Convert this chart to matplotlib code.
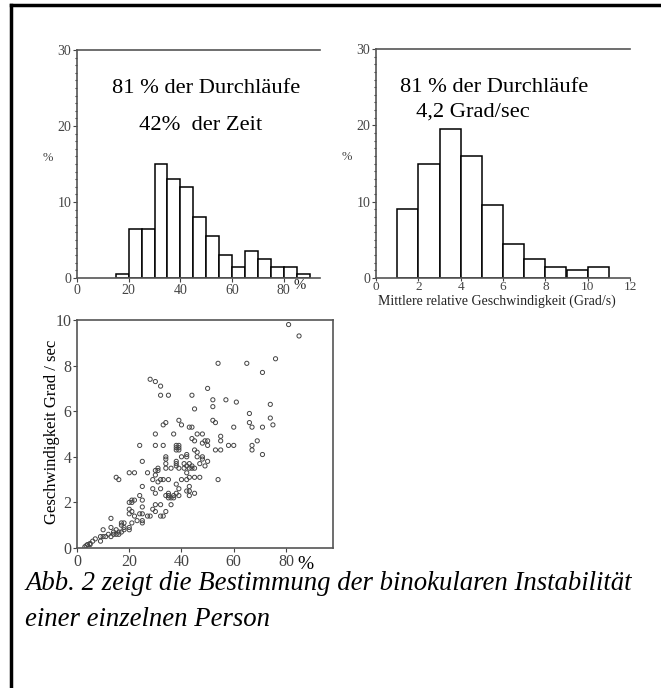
import numpy as np
import matplotlib.pyplot as plt

plt.rcParams['font.family'] = ['Liberation Serif', 'DejaVu Serif']

# Histogram 1: share of time (%), bins of 5
time_edges = [15, 20, 25, 30, 35, 40, 45, 50, 55, 60, 65, 70, 75, 80, 85, 90]
time_counts = [0.5, 6.5, 6.5, 15, 13, 12, 8, 5.5, 3, 1.5, 3.5, 2.5, 1.5, 1.5, 0.5]

# Histogram 2: mean relative speed (Grad/s), bins of 1
speed_edges = [1, 2, 3, 4, 5, 6, 7, 8, 9, 10, 11]
speed_counts = [9, 15, 19.5, 16, 9.5, 4.5, 2.5, 1.5, 1, 1.5]

# Scatter: time share (%) vs speed (Grad/sec)
scatter_x = [3, 3.5, 4, 5, 5, 6, 7, 9, 9, 10, 10, 11, 12, 13, 13, 13, 14, 14, 15, 15,
             16, 16, 17, 17, 17, 18, 18, 18, 20, 20, 20, 20, 20, 21, 21, 21, 22, 22, 23, 24,
             24, 25, 25, 25, 25, 25, 25, 25, 24, 20, 22, 15, 16, 21,
             27, 27, 28, 28, 29, 29, 29, 30, 30, 30, 30, 30, 30, 30, 30, 31, 31, 31,
             32, 32, 32, 32, 32, 32, 33, 33, 33, 33, 34, 34, 34, 34, 34, 34, 34,
             35, 35, 35, 35, 35, 36, 36, 36, 37, 37, 37, 38, 38, 38, 38, 38, 38, 38, 38,
             39, 39, 39, 39, 39, 39, 39, 40, 40, 40, 41, 41, 42, 42, 42, 42, 42, 42,
             43, 43, 43, 43, 43, 43, 43, 44, 44, 44, 44, 44, 45, 45, 45, 45, 45, 45,
             46, 46, 46, 47, 47, 48, 48, 48, 48, 49, 49, 50, 50, 50, 50, 52, 52, 52,
             53, 53, 54, 54, 55, 55, 55, 57, 58, 60, 60, 61, 65, 66, 66, 67, 67, 67,
             69, 71, 71, 71, 74, 74, 75, 76, 81, 85]
scatter_y = [0.05, 0.1, 0.15, 0.2, 0.15, 0.3, 0.4, 0.3, 0.5, 0.5, 0.8, 0.5, 0.6, 0.5, 0.9, 1.3, 0.6, 0.7, 0.6, 0.8,
             0.6, 0.7, 0.7, 1.0, 1.1, 0.8, 1.1, 0.9, 0.8, 0.9, 1.5, 1.7, 2.0, 2.0, 2.1, 1.6, 2.1, 1.4, 1.2, 1.5,
             2.3, 1.1, 1.2, 1.5, 1.8, 2.1, 2.7, 3.8, 4.5, 3.3, 3.3, 3.1, 3.0, 1.1,
             3.3, 1.4, 1.4, 7.4, 1.7, 2.6, 3.0, 7.3, 5.0, 4.5, 3.4, 3.2, 2.4, 1.9, 1.6, 3.5, 3.4, 2.9,
             7.1, 6.7, 3.0, 2.6, 1.9, 1.4, 1.4, 3.0, 4.5, 5.4, 5.5, 4.0, 3.9, 3.7, 3.5, 2.3, 1.6,
             6.7, 3.0, 2.4, 2.3, 2.2, 2.2, 1.9, 3.5, 5.0, 2.3, 2.2, 2.4, 2.8, 3.6, 3.7, 3.8, 4.4, 4.5, 4.3,
             4.4, 4.5, 4.3, 3.5, 2.6, 2.3, 5.6, 5.4, 4.0, 3.0, 3.7, 3.5, 4.1, 4.0, 3.3, 3.0, 2.5, 3.6,
             5.3, 3.7, 3.5, 3.1, 2.7, 2.5, 2.3, 6.7, 5.3, 4.8, 3.6, 3.5, 6.1, 4.7, 4.3, 3.5, 3.1, 2.4,
             5.0, 4.2, 4.0, 3.7, 3.1, 5.0, 4.6, 4.0, 3.9, 3.6, 4.7, 7.0, 4.7, 4.5, 3.8, 6.5, 6.2, 5.6,
             5.5, 4.3, 8.1, 3.0, 4.9, 4.7, 4.3, 6.5, 4.5, 5.3, 4.5, 6.4, 8.1, 5.9, 5.5, 5.3, 4.5, 4.3,
             4.7, 7.7, 5.3, 4.1, 6.3, 5.7, 5.4, 8.3, 9.8, 9.3]

W, H = 661, 688
fig = plt.figure(figsize=(W / 100, H / 100), dpi=100)

def frac(x0, y0, x1, y1):
    return [x0 / W, 1 - y1 / H, (x1 - x0) / W, (y1 - y0) / H]

spine_col = '#555555'
tick_col = '#444444'


def style_hist(ax):
    ax.spines['right'].set_visible(False)
    for s in ['left', 'top', 'bottom']:
        ax.spines[s].set_color(spine_col)
        ax.spines[s].set_linewidth(1.2)
    ax.set_ylim(0, 30)
    ax.set_yticks([0, 10, 20, 30])
    ax.set_yticks(np.arange(0, 30, 1), minor=True)
    ax.tick_params(axis='y', which='minor', length=1.5, width=0.8, color='#333333')
    ax.tick_params(axis='both', which='major', labelsize=10, colors=tick_col,
                   length=3, width=0.8, pad=1)
    ax.set_ylabel('%', fontsize=9, color=tick_col, rotation=0, labelpad=7)


# top-left histogram
ax1 = fig.add_axes(frac(77, 50, 320, 278))
ax1.bar(time_edges[:-1], time_counts, width=5, align='edge', facecolor='white',
        edgecolor='black', linewidth=1.1)
style_hist(ax1)
ax1.set_xlim(0, 94)
ax1.set_xticks([0, 20, 40, 60, 80])
ax1.text(83.6, -0.95, '%', fontsize=10.5, ha='left', va='center', color='#222222')
ax1.text(0.53, 0.833, '81 % der Durchläufe', transform=ax1.transAxes,
         fontsize=16.2, ha='center', va='center')
ax1.text(0.51, 0.67, '42%  der Zeit', transform=ax1.transAxes,
         fontsize=16.2, ha='center', va='center')

# top-right histogram
ax2 = fig.add_axes(frac(376, 49, 630, 278))
ax2.bar(speed_edges[:-1], speed_counts, width=1, align='edge', facecolor='white',
        edgecolor='black', linewidth=1.1)
style_hist(ax2)
ax2.set_xlim(0, 12)
ax2.set_xticks([0, 2, 4, 6, 8, 10, 12])
ax2.tick_params(axis='x', pad=0, length=2, labelsize=9.5)
ax2.set_xlabel('Mittlere relative Geschwindigkeit (Grad/s)', fontsize=10,
               color='#222222', va='top')
ax2.xaxis.set_label_coords(0.477, -0.072)
ax2.text(0.465, 0.834, '81 % der Durchläufe', transform=ax2.transAxes,
         fontsize=16.2, ha='center', va='center')
ax2.text(0.383, 0.725, '4,2 Grad/sec', transform=ax2.transAxes,
         fontsize=16.2, ha='center', va='center')

# scatter
ax3 = fig.add_axes(frac(77, 320, 333, 548))
ax3.scatter(scatter_x, scatter_y, s=9, facecolors='none', edgecolors='#444444',
            linewidths=0.7)
ax3.set_xlim(0, 98)
ax3.set_ylim(0, 10)
ax3.set_xticks([0, 20, 40, 60, 80])
ax3.set_yticks([0, 2, 4, 6, 8, 10])
for s in ax3.spines.values():
    s.set_color(spine_col)
    s.set_linewidth(1.2)
ax3.tick_params(axis='both', labelsize=11.5, colors=tick_col, length=3, width=0.8, pad=1)
ax3.set_ylabel('Geschwindigkeit Grad / sec', fontsize=12)
ax3.yaxis.set_label_coords(-0.066, 0.51)
ax3.text(84.5, -0.35, '%', fontsize=14, ha='left', va='top')

# caption
fig.text(25 / W, 1 - 584 / H, 'Abb. 2 zeigt die Bestimmung der binokularen Instabilität',
         fontsize=19.3, style='italic', ha='left', va='center')
fig.text(25 / W, 1 - 619 / H, 'einer einzelnen Person',
         fontsize=19.3, style='italic', ha='left', va='center')

# outer frame (left and top edges visible)
fig.add_artist(plt.Line2D([11 / W, 11 / W], [0, 1 - 5 / H], color='black', lw=2.5))
fig.add_artist(plt.Line2D([11 / W, 1], [1 - 5 / H, 1 - 5 / H], color='black', lw=2.5))

fig.savefig('out.png', dpi=100)
